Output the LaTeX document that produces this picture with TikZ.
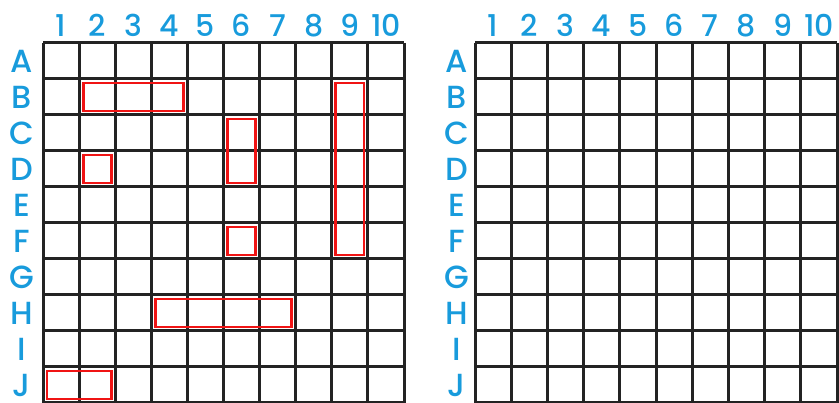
\documentclass[tikz,border=0pt]{standalone}
\usepackage{fontspec}
\setmainfont{Poppins}[UprightFont = * Medium]
\definecolor{lblblue}{RGB}{24,155,220}
\definecolor{gridgray}{RGB}{35,35,35}
\definecolor{shipred}{RGB}{240,20,20}
\begin{document}
\begin{tikzpicture}[x=1pt,y=-1pt,
  gridline/.style={draw=gridgray,line width=3pt},
  shipbox/.style={draw=shipred,line width=2.8pt},
  collabel/.style={text=lblblue,font=\fontsize{30}{30}\selectfont,inner sep=0pt,anchor=base},
  rowlabel/.style={text=lblblue,font=\fontsize{32}{32}\selectfont,inner sep=0pt,anchor=base}]
\useasboundingbox (0,0) rectangle (839,403);
\def\ch{36.0}
% ---------- left board ----------
\def\lx{43}\def\ly{43}\def\lcw{36.1}
\foreach \i in {0,...,10}{
  \draw[gridline] (\lx+\i*\lcw,\ly) -- (\lx+\i*\lcw,\ly+10*\ch);
  \draw[gridline] (\lx,\ly+\i*\ch) -- (\lx+10*\lcw,\ly+\i*\ch);
}
\foreach \i in {1,...,10}{
  \node[collabel] (Lc\i) at (\lx+\i*\lcw-0.5*\lcw,37) {\i};
}
\foreach \l [count=\i] in {A,B,C,D,E,F,G,H,I,J}{
  \node[rowlabel] (Lr\l) at (22,\ly+\i*\ch-\ch+29.5) {\l};
}
% ships: {row1,row2,col1,col2}
\foreach \ra/\rb/\ca/\cb in {2/2/2/4, 2/6/9/9, 3/4/6/6, 4/4/2/2, 6/6/6/6, 8/8/4/7, 10/10/1/2}{
  \draw[shipbox] (\lx+\ca*\lcw-\lcw+4,\ly+\ra*\ch-\ch+4) rectangle (\lx+\cb*\lcw-4,\ly+\rb*\ch-4);
}
% ---------- right board ----------
\def\rx{475}\def\rcw{36.2}
\foreach \i in {0,...,10}{
  \draw[gridline] (\rx+\i*\rcw,\ly) -- (\rx+\i*\rcw,\ly+10*\ch);
  \draw[gridline] (\rx,\ly+\i*\ch) -- (\rx+10*\rcw,\ly+\i*\ch);
}
\foreach \i in {1,...,10}{
  \node[collabel] (Rc\i) at (\rx+\i*\rcw-0.5*\rcw,37) {\i};
}
\foreach \l [count=\i] in {A,B,C,D,E,F,G,H,I,J}{
  \node[rowlabel] (Rr\l) at (457,\ly+\i*\ch-\ch+29.5) {\l};
}
\end{tikzpicture}
\end{document}
